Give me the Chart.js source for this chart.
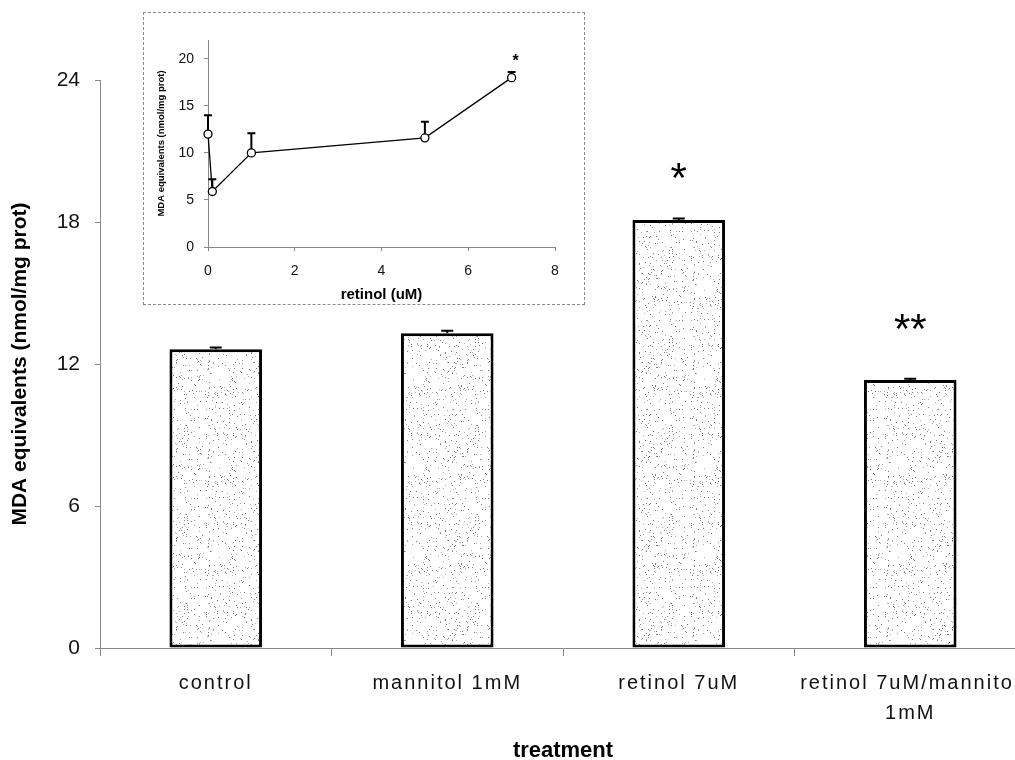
<!DOCTYPE html>
<html>
<head>
<meta charset="utf-8">
<script src="https://cdn.jsdelivr.net/npm/chart.js@4/dist/chart.umd.min.js"></script>
<style>
  html, body { margin: 0; padding: 0; background: #fff; overflow: hidden; width: 1015px; height: 760px; }
  #main-chart { position: absolute; left: 0; top: 0; }
  #inset-box { position: absolute; left: 143px; top: 12px; width: 440px; height: 291px; border: 1px dashed #8c8c8c; background: #fff; }
</style>
</head>
<body>
<canvas id="main-chart" width="1026" height="772"></canvas>
<div id="inset-box"><canvas id="inset-chart" width="440" height="291"></canvas></div>
<script>
// main bar chart
const categories = ['control', 'mannitol 1mM', 'retinol 7uM', ['retinol 7uM/mannitol', '1mM']];
const mdaMeans = [12.62, 13.3, 18.08, 11.32];
const mdaErrors = [0.08, 0.1, 0.07, 0.06];
const sigMarks = ['', '', '*', '**'];
const sigLevels = [null, null, 20.3, 13.9];
const yTicks = [0, 6, 12, 18, 24];

// inset dose curve
const retinolDoses = [0, 0.1, 1, 5, 7];
const doseMeans = [12.0, 5.9, 10.0, 11.6, 18.0];
const doseErrors = [2.0, 1.3, 2.1, 1.7, 0.6];
const doseMarks = ['', '', '', '', '*'];
const insetYTicks = [0, 5, 10, 15, 20];
const insetXTicks = [0, 2, 4, 6, 8];

const FONT = '"Liberation Sans", Arial, sans-serif';
Chart.defaults.font.family = FONT;
Chart.defaults.color = '#111';

// stipple texture for the bars (fixed seed, decoration only)
function makeStipple() {
    const c = document.createElement('canvas');
    c.width = 97; c.height = 89;
    const g = c.getContext('2d');
    g.fillStyle = '#fff';
    g.fillRect(0, 0, c.width, c.height);
    let s = 0x2f6b1a3;
    function rnd() {
        s |= 0; s = s + 0x6D2B79F5 | 0;
        let t = Math.imul(s ^ s >>> 15, 1 | s);
        t = t + Math.imul(t ^ t >>> 7, 61 | t) ^ t;
        return ((t ^ t >>> 14) >>> 0) / 4294967296;
    }
    for (let k = 0; k < 400; k++) {
        const px = Math.floor(rnd() * c.width);
        const py = Math.floor(rnd() * c.height);
        g.fillStyle = rnd() < 0.5 ? '#7a7a7a' : '#ababab';
        g.fillRect(px, py, 1, 1);
    }
    return g.createPattern(c, 'repeat');
}

const barExtras = {
    id: 'barExtras',
    afterDatasetsDraw(chart) {
        const ctx = chart.ctx;
        const y = chart.scales.y;
        ctx.save();
        ctx.strokeStyle = '#000';
        ctx.lineWidth = 2;
        chart.getDatasetMeta(0).data.forEach(function(bar, i) {
            const top = y.getPixelForValue(mdaMeans[i] + mdaErrors[i]);
            ctx.beginPath();
            ctx.moveTo(bar.x, bar.y);
            ctx.lineTo(bar.x, top);
            ctx.moveTo(bar.x - 6, top);
            ctx.lineTo(bar.x + 6, top);
            ctx.stroke();
            if (sigMarks[i]) {
                ctx.fillStyle = '#000';
                ctx.font = '42px ' + FONT;
                ctx.textAlign = 'center';
                ctx.textBaseline = 'alphabetic';
                ctx.fillText(sigMarks[i], bar.x, y.getPixelForValue(sigLevels[i]) + 0.57 * 42);
            }
        });
        ctx.restore();
        // x labels/title are drawn after this (ticks.z = 1), spaced out like the scan
        ctx.letterSpacing = '2px';
    },
    afterDraw(chart) {
        chart.ctx.letterSpacing = '0px';
    }
};

new Chart(document.getElementById('main-chart'), {
    type: 'bar',
    data: {
        labels: categories,
        datasets: [{
            data: mdaMeans,
            backgroundColor: makeStipple(),
            borderColor: '#000',
            borderWidth: 3,
            borderSkipped: false,
            barPercentage: 0.4,
            categoryPercentage: 1
        }]
    },
    options: {
        responsive: false,
        animation: false,
        devicePixelRatio: 1,
        layout: { padding: { top: 80, left: 0, right: 0, bottom: 0 } },
        plugins: { legend: { display: false }, tooltip: { enabled: false } },
        scales: {
            x: {
                offset: true,
                grid: { display: true, drawOnChartArea: false, drawTicks: true, tickLength: 8, color: '#888', offset: true },
                border: { color: '#888', width: 1 },
                ticks: { z: 1, autoSkip: false, maxRotation: 0, minRotation: 0, padding: 12, color: '#111',
                         font: { size: 20, lineHeight: 1.5 } },
                title: { display: true, text: 'treatment', color: '#000',
                         font: { size: 22, weight: 'bold' }, padding: { top: 0, bottom: 8 } },
                afterFit(scale) { scale.height = 124; }
            },
            y: {
                min: 0,
                max: 24,
                afterBuildTicks(scale) { scale.ticks = yTicks.map(v => ({ value: v })); },
                grid: { display: true, drawOnChartArea: false, drawTicks: true, tickLength: 5, color: '#888' },
                border: { color: '#888', width: 1 },
                ticks: { padding: 15, color: '#111', font: { size: 21 } },
                title: { display: true, text: 'MDA equivalents (nmol/mg prot)', color: '#000',
                         font: { size: 21, weight: 'bold' }, padding: { top: 8, bottom: 0 } },
                afterFit(scale) { scale.width = 100; }
            }
        }
    },
    plugins: [barExtras]
});

const insetExtras = {
    id: 'insetExtras',
    afterDatasetsDraw(chart) {
        const ctx = chart.ctx;
        const xs = chart.scales.x, ys = chart.scales.y;
        ctx.save();
        ctx.strokeStyle = '#000';
        ctx.lineWidth = 2;
        retinolDoses.forEach(function(d, i) {
            const px = xs.getPixelForValue(d);
            const py = ys.getPixelForValue(doseMeans[i]) - 4;
            const top = ys.getPixelForValue(doseMeans[i] + doseErrors[i]);
            ctx.beginPath();
            ctx.moveTo(px, py);
            ctx.lineTo(px, top);
            ctx.moveTo(px - 4, top);
            ctx.lineTo(px + 4, top);
            ctx.stroke();
            if (doseMarks[i]) {
                ctx.fillStyle = '#000';
                ctx.font = 'bold 16px ' + FONT;
                ctx.textAlign = 'center';
                ctx.textBaseline = 'alphabetic';
                ctx.fillText(doseMarks[i], px + 4, top - 15 + 0.57 * 16);
            }
        });
        ctx.restore();
    }
};

new Chart(document.getElementById('inset-chart'), {
    type: 'scatter',
    data: {
        datasets: [{
            data: retinolDoses.map((d, i) => ({ x: d, y: doseMeans[i] })),
            showLine: true,
            clip: false,
            borderColor: '#000',
            borderWidth: 1.3,
            pointRadius: 4,
            pointBackgroundColor: '#fff',
            pointBorderColor: '#000',
            pointBorderWidth: 1.3
        }]
    },
    options: {
        responsive: false,
        animation: false,
        devicePixelRatio: 1,
        layout: { padding: { top: 27, left: 0, right: 29, bottom: 0 } },
        plugins: { legend: { display: false }, tooltip: { enabled: false } },
        scales: {
            x: {
                type: 'linear',
                min: 0,
                max: 8,
                afterBuildTicks(scale) { scale.ticks = insetXTicks.map(v => ({ value: v })); },
                grid: { display: true, drawOnChartArea: false, drawTicks: true, tickLength: 4, color: '#888' },
                border: { color: '#888', width: 1, dash: [4, 2] },
                ticks: { padding: 12, color: '#111', font: { size: 14 } },
                title: { display: true, text: 'retinol (uM)', color: '#000',
                         font: { size: 15, weight: 'bold' }, padding: { top: 0, bottom: 0 } },
                afterFit(scale) { scale.height = 57; }
            },
            y: {
                min: 0,
                max: 22,
                afterBuildTicks(scale) { scale.ticks = insetYTicks.map(v => ({ value: v })); },
                grid: { display: true, drawOnChartArea: false, drawTicks: true, tickLength: 4, color: '#888' },
                border: { color: '#888', width: 1, dash: [4, 2] },
                ticks: { padding: 10, color: '#111', font: { size: 14 } },
                title: { display: true, text: 'MDA equivalents (nmol/mg prot)', color: '#000',
                         font: { size: 9.5, weight: 'bold' }, padding: { top: 12, bottom: 0 } },
                afterFit(scale) { scale.width = 64; }
            }
        }
    },
    plugins: [insetExtras]
});
</script>
</body>
</html>
